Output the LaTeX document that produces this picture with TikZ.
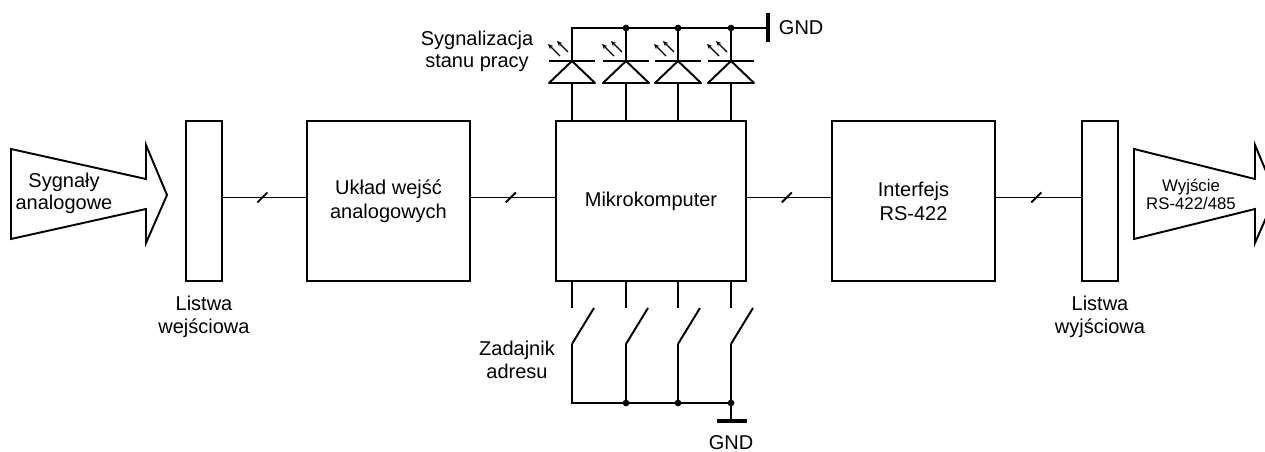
\documentclass[tikz,border=0pt]{standalone}
\usepackage{fontspec}
\setmainfont{Liberation Sans}
\usetikzlibrary{arrows.meta,calc}
\begin{document}
\begin{tikzpicture}[x=0.75pt,y=-0.75pt,line width=1.45pt,
  txt/.style={font=\fontsize{15}{17}\selectfont, align=center, inner sep=0pt},
  smalltxt/.style={font=\fontsize{12.6}{13.5}\selectfont, align=center, inner sep=0pt},
  blk/.style={draw, rectangle, inner sep=0pt, outer sep=0pt, align=center,
    font=\fontsize{15}{18}\selectfont, minimum height=120pt},
  strip/.style={draw, rectangle, inner sep=0pt, outer sep=0pt, minimum width=27pt, minimum height=120pt},
  gndbar/.style={line width=3pt},
  emit/.style={line width=1pt, -{Stealth[length=4pt,width=3.5pt]}},
  bigarrow/.style={draw, line join=miter}
]
\useasboundingbox (0,0) rectangle (1265,452);
\clip (0,0) rectangle (1265,452);

% main blocks
\node[strip] (inS) at (204,201) {};
\node[blk, minimum width=122.25pt] (uk) at (388.5,201) {Układ wejść\\analogowych};
\node[blk, minimum width=142.5pt] (mk) at (651,201) {Mikrokomputer};
\node[blk, minimum width=122.25pt] (rs) at (913.5,201) {Interfejs\\RS-422};
\node[strip] (outS) at (1100,201) {};

% bus connectors with slash marks
\coordinate (bus) at (0,197.5);
\foreach \a/\b in {inS/uk, uk/mk, mk/rs, rs/outS} {
  \draw (\a.east |- bus) -- coordinate[pos=0.475] (m) (\b.west |- bus);
  \draw (m) +(-5,5) -- +(5,-5);
}

% input / output big arrows
\draw[bigarrow] (11,149) -- (146,179) -- (146,145) -- (167,195) -- (146,243) -- (146,209) -- (11,239) -- cycle;
\node[txt] (inT) at (64,193.3) {Sygnały\\analogowe};
\draw[bigarrow] (1134,149) -- (1255,179) -- (1255,145) -- (1276,195) -- (1255,243) -- (1255,209) -- (1134,239) -- cycle;
\node[smalltxt] (outT) at (1191,194) {Wyjście\\RS-422/485};

% strip labels
\node[txt] (inL) at (204,316.8) {Listwa\\wejściowa};
\node[txt] (outL) at (1100,316.8) {Listwa\\wyjściowa};

% LEDs
\coordinate (gnd1) at (768,28);
\foreach \c [count=\i] in {572,626,678,731} {
  \coordinate (top\i) at (\c,28);
  \coordinate (k\i) at (\c,61);
  \coordinate (a\i) at (\c,83);
  \draw[line join=round] (k\i) -- ($(k\i)+(-23,22)$) -- ($(k\i)+(23,22)$) -- cycle;
  \draw ($(k\i)+(-23,0)$) -- ($(k\i)+(23,0)$);
  \draw (a\i) -- (mk.north -| a\i);
  \draw[emit] ($(k\i)+(-12,-5)$) -- ($(k\i)+(-24,-17)$);
  \draw[emit] ($(k\i)+(-4,-9)$) -- ($(k\i)+(-15,-20)$);
}
\draw (k1) -- (top1) -- (gnd1);
\foreach \i in {2,3,4} { \draw (top\i) -- (k\i); \fill (top\i) circle[radius=2.5pt]; }
\draw[gndbar] (768,13) -- (768,42);
\node[txt, anchor=base west] (gndT) at (778,35) {GND};
\node[txt] (ledT) at (477,51.3) {Sygnalizacja\\stanu pracy};

% address switches
\foreach \c [count=\i] in {572,626,678,731} {
  \coordinate (s\i) at (\c,308);
  \coordinate (p\i) at (\c,344);
  \coordinate (b\i) at (\c,403);
  \draw (mk.south -| s\i) -- (s\i);
  \draw (p\i) -- ++(22,-36);
}
\draw (p1) -- (b1) -- (b4);
\foreach \i in {2,3,4} { \draw (p\i) -- (b\i); \fill (b\i) circle[radius=2.5pt]; }
\coordinate (g2) at (731,421);
\draw (b4) -- (g2);
\draw[gndbar] (717,421) -- (747,421);
\node[txt, anchor=base] (gndB) at (731,450) {GND};
\node[txt] (swT) at (517,359.9) {Zadajnik\\adresu};
\end{tikzpicture}
\end{document}
